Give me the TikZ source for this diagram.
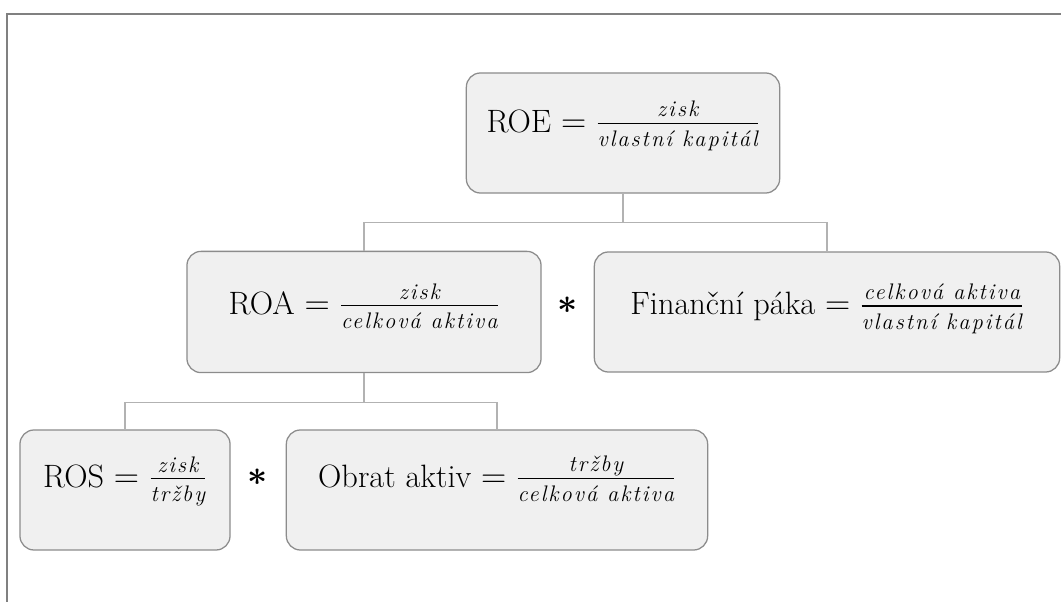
\documentclass[tikz,border=0pt]{standalone}
\usepackage{amsmath}
\usepackage{fontspec}
\newfontfamily\ratiofam{Latin Modern Roman}[LetterSpace=9]
\newcommand{\ratiopart}[1]{\text{\fontsize{16}{18}\selectfont\ratiofam\itshape #1}}
\newcommand{\ratio}[2]{\frac{\ratiopart{#1}\rule[-3pt]{0pt}{3pt}}{\rule{0pt}{15pt}\ratiopart{#2}}}
\tikzset{
  box/.style={draw=black!45, fill=black!6, rounded corners=10pt, line width=0.9pt},
  formula/.style={font=\fontsize{23}{27}\selectfont, anchor=base},
  conn/.style={draw=black!30, line width=0.8pt},
  mult/.style={font=\fontsize{30}{30}\selectfont, inner sep=0pt},
}
\begin{document}
\begin{tikzpicture}[x=0.025cm, y=-0.025cm]
    \useasboundingbox (0,0) rectangle (1061,602);
    % frame
    \draw[black!50, line width=1.4pt] (1061,14) -- (7,14) -- (7,602);

    \node[box, minimum width=7.83cm, minimum height=3cm] (roe) at (623,133) {};
    \node[box, minimum width=8.85cm, minimum height=3.03cm] (roa) at (364,312) {};
    \node[box, minimum width=11.63cm, minimum height=3cm] (fp) at (827,312) {};
    \node[box, minimum width=5.25cm, minimum height=3cm] (ros) at (125,490) {};
    \node[box, minimum width=10.53cm, minimum height=3cm] (oa) at (497,490) {};

    \node[formula] (roetext) at ([yshift=0.7pt]roe.center) {ROE $= \ratio{zisk}{vlastní kapitál}$};
    \node[formula] (roatext) at ([yshift=-1.8pt]roa.center) {ROA $= \ratio{zisk}{celková aktiva}$};
    \node[formula] (fptext) at ([yshift=-2pt]fp.center) {Finanční páka $= \ratio{celková aktiva}{vlastní kapitál}$};
    \node[formula] (rostext) at ([yshift=2pt]ros.center) {ROS $= \ratio{zisk}{tržby}$};
    \node[formula] (oatext) at ([yshift=2pt]oa.center) {Obrat aktiv $= \ratio{tržby}{celková aktiva}$};

    \node[mult] (mult1) at (568,305) {$\boldsymbol{\ast}$};
    \node[mult] (mult2) at (258,477) {$\boldsymbol{\ast}$};

    % tree lines
    \draw[conn] (roe.south) -- ++(0,29) -| (roa.north);
    \draw[conn] (roe.south) -- ++(0,29) -| (fp.north);
    \draw[conn] (roa.south) -- ++(0,29) -| (ros.north);
    \draw[conn] (roa.south) -- ++(0,29) -| (oa.north);
\end{tikzpicture}
\end{document}
